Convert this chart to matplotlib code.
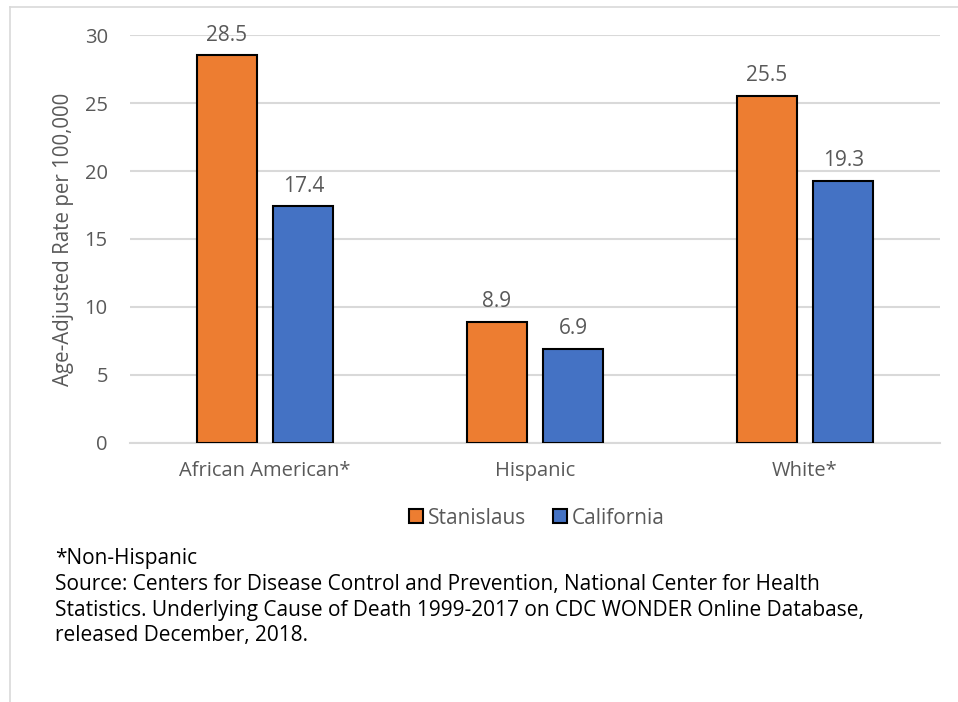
import numpy as np
import matplotlib.pyplot as plt
from matplotlib.lines import Line2D

# Chart data
categories = ["African American*", "Hispanic", "White*"]
stanislaus = [28.5, 8.9, 25.5]
california = [17.4, 6.9, 19.3]
series_names = ["Stanislaus", "California"]
yticks = [0, 5, 10, 15, 20, 25, 30]

footnote = ("*Non-Hispanic\n"
            "Source: Centers for Disease Control and Prevention, National Center for Health\n"
            "Statistics. Underlying Cause of Death 1999-2017 on CDC WONDER Online Database,\n"
            "released December, 2018.")

orange = "#ed7d31"
blue = "#4472c4"
grey_text = "#595959"
grid_col = "#d9d9d9"

plt.rcParams["font.family"] = ["Open Sans", "DejaVu Sans"]

fig = plt.figure(figsize=(9.58, 7.02), dpi=100)
ax = fig.add_axes([0.1357, 0.369, 0.8455, 0.5811])

x = np.arange(len(categories))
w = 0.222
off = 0.142
b1 = ax.bar(x - off, stanislaus, w, color=orange, edgecolor="black", linewidth=1.5,
            label=series_names[0], zorder=3)
b2 = ax.bar(x + off, california, w, color=blue, edgecolor="black", linewidth=1.5,
            label=series_names[1], zorder=3)

for bars in (b1, b2):
    for r in bars:
        ax.annotate("{:.1f}".format(r.get_height()),
                    (r.get_x() + r.get_width() / 2, r.get_height()),
                    xytext=(0, 7), textcoords="offset points",
                    ha="center", va="bottom", fontsize=15, color=grey_text)

ax.set_xlim(-0.5, 2.5)
ax.set_ylim(0, 30)
ax.set_yticks(yticks)
ax.set_xticks(x)
ax.set_xticklabels(categories)
ax.tick_params(axis="both", length=0, labelsize=14.5, colors=grey_text)
ax.tick_params(axis="y", pad=16)
ax.tick_params(axis="x", pad=13)
ax.yaxis.grid(True, color=grid_col, linewidth=1.5, zorder=0)
for s in ["top", "right", "left"]:
    ax.spines[s].set_visible(False)
ax.spines["bottom"].set_color(grid_col)
ax.spines["bottom"].set_linewidth(1.5)
ax.set_ylabel("Age-Adjusted Rate per 100,000", fontsize=14.8, color=grey_text, labelpad=8)

leg = ax.legend(loc="center", bbox_to_anchor=(537 / 958, 1 - 518 / 702),
                bbox_transform=fig.transFigure, ncol=2, frameon=False,
                fontsize=15, handlelength=0.65, handleheight=0.65,
                handletextpad=0.25, columnspacing=1.3)
for t in leg.get_texts():
    t.set_color(grey_text)

fig.text(55 / 958, 1 - 548 / 702, footnote, fontsize=15,
         va="top", ha="left", linespacing=1.3, color="black")

# outer chart border
fig.add_artist(Line2D([10 / 958, 10 / 958], [0, 1 - 7 / 702], color=grid_col, linewidth=1.2))
fig.add_artist(Line2D([10 / 958, 1], [1 - 7 / 702, 1 - 7 / 702], color=grid_col, linewidth=1.2))

fig.savefig("out.png", dpi=100)
